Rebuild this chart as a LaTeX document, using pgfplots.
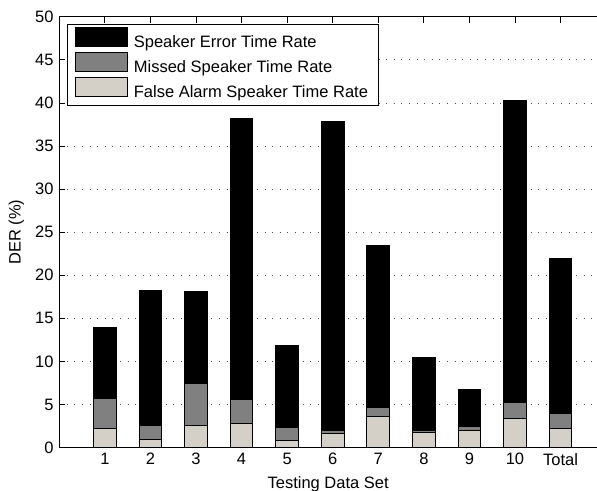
\documentclass[border=0pt]{standalone}
\usepackage{fontspec}
\setmainfont{Liberation Sans}
\usepackage{pgfplots}
\pgfplotsset{compat=1.18}
\definecolor{fagray}{RGB}{212,208,200}
\definecolor{missgray}{RGB}{128,128,128}
\pgfplotsset{
  boxleg/.style={legend image code/.code={
    \draw[##1,draw=black,line width=1bp] (0bp,-3.7bp) rectangle (52bp,15.3bp);
    \path[draw=none,fill=none] (0bp,0bp) -- (56bp,0bp);}},
}

\begin{document}
\fontsize{16.5bp}{19.8bp}\selectfont
\begin{tikzpicture}
\useasboundingbox (-59.3bp,-43.3bp) rectangle (537.7bp,447.7bp);
\begin{axis}[
    scale only axis, width=537.7bp, height=431bp,
    xmin=0, xmax=11.8, ymin=0, ymax=50,
    axis y line*=left,
    ybar stacked, bar width=0.5,
    xtick={1,2,3,4,5,6,7,8,9,10,11},
    xticklabels={1,2,3,4,5,6,7,8,9,10,Total},
    ytick={0,5,...,50},
    tick align=inside, major tick length=6bp,
    every tick/.style={black, line width=0.8bp},
    axis line style={black, line width=0.8bp},
    ymajorgrids, grid style={black!70, line width=0.8bp, dash pattern=on 0.8bp off 6.8bp},
    xlabel={Testing Data Set}, ylabel={DER (\%)},
    /pgf/number format/assume math mode=true,
    legend style={at={(0.0143,0.983)}, anchor=north west, draw=black,
        line width=0.8bp, fill=white, font=\fontsize{16.5bp}{19.8bp}\selectfont,
        row sep=0bp, inner xsep=8bp, inner ysep=3bp},
    legend cell align=left,
    reverse legend,
]
% bottom: false alarm, middle: missed, top: speaker error
\addplot[fill=fagray, draw=black, line width=1bp, boxleg] coordinates {
    (1,2.2) (2,1.0) (3,2.6) (4,2.8) (5,0.8) (6,1.6) (7,3.6) (8,1.8) (9,2.0) (10,3.4) (11,2.2)
};
\addplot[fill=missgray, draw=black, line width=1bp, boxleg] coordinates {
    (1,3.5) (2,1.6) (3,4.8) (4,2.8) (5,1.6) (6,0.4) (7,1.1) (8,0.2) (9,0.5) (10,1.8) (11,1.8)
};
\addplot[fill=black, draw=black, line width=1bp, boxleg] coordinates {
    (1,8.2) (2,15.6) (3,10.7) (4,32.6) (5,9.4) (6,35.9) (7,18.7) (8,8.5) (9,4.2) (10,35.1) (11,17.9)
};
\legend{False Alarm Speaker Time Rate, Missed Speaker Time Rate, Speaker Error Time Rate}
\end{axis}
\end{tikzpicture}
\end{document}
